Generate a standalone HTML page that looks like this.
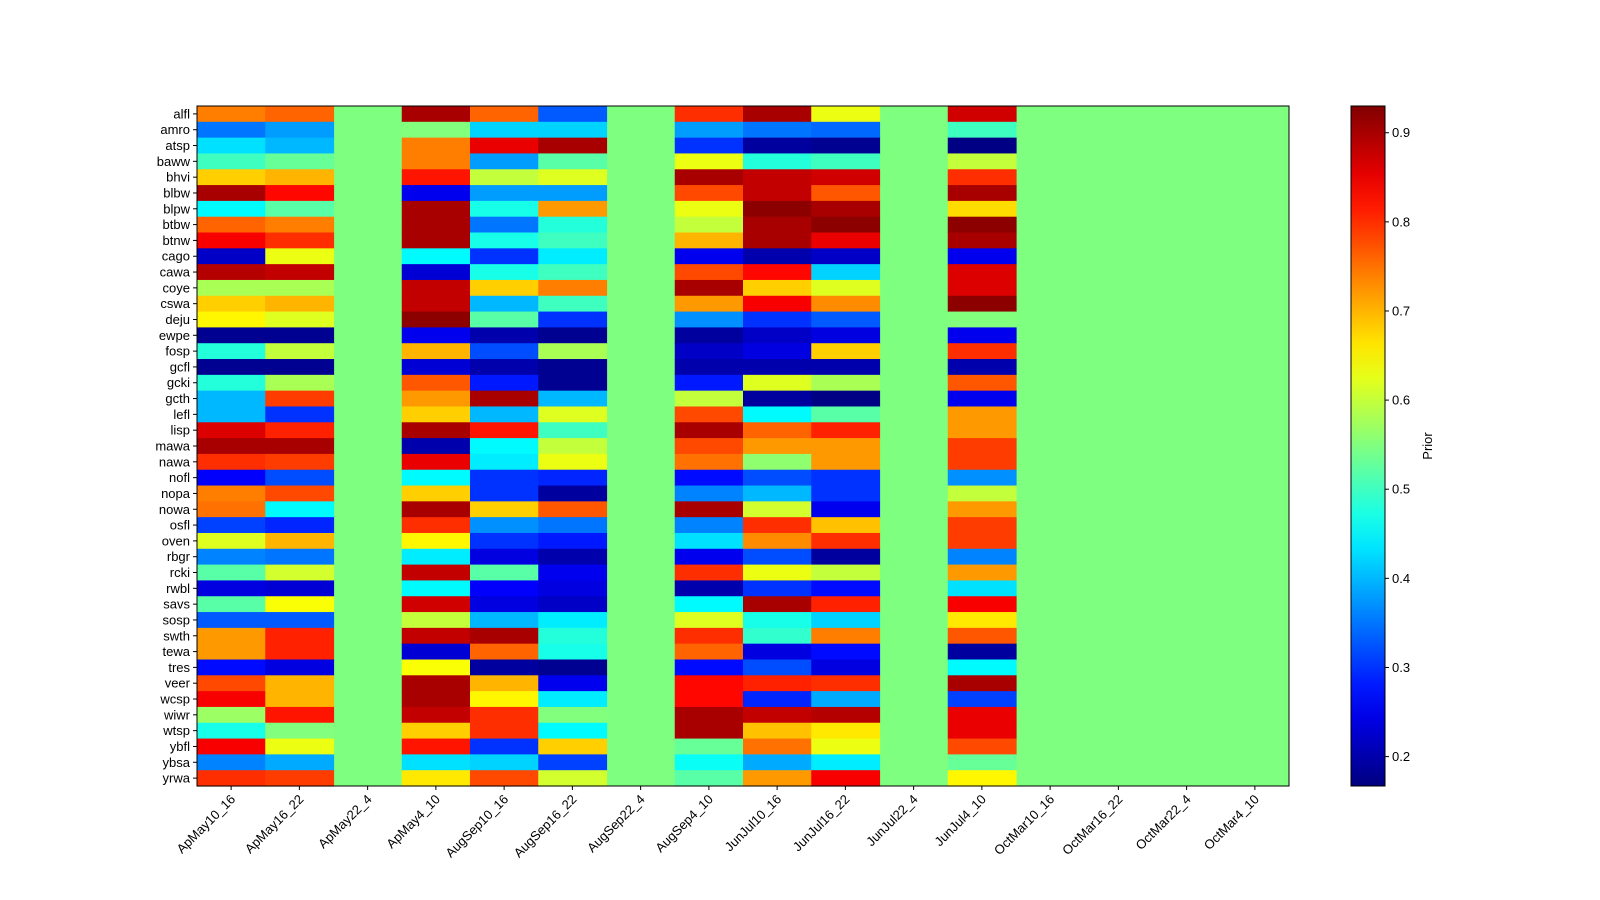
<!DOCTYPE html>
<html><head><meta charset="utf-8"><style>
html,body{margin:0;padding:0;background:#fff;overflow:hidden;width:1600px;height:900px;}
svg{display:block;font-family:"Liberation Sans","DejaVu Sans",sans-serif;}
</style></head><body>
<svg id="s" width="1600" height="900" viewBox="0 0 1600 900" xmlns="http://www.w3.org/2000/svg"></svg>
<script>
const rows=["alfl","amro","atsp","baww","bhvi","blbw","blpw","btbw","btnw","cago","cawa","coye","cswa","deju","ewpe","fosp","gcfl","gcki","gcth","lefl","lisp","mawa","nawa","nofl","nopa","nowa","osfl","oven","rbgr","rcki","rwbl","savs","sosp","swth","tewa","tres","veer","wcsp","wiwr","wtsp","ybfl","ybsa","yrwa"];
const cols=["ApMay10_16","ApMay16_22","ApMay22_4","ApMay4_10","AugSep10_16","AugSep16_22","AugSep22_4","AugSep4_10","JunJul10_16","JunJul16_22","JunJul22_4","JunJul4_10","OctMar10_16","OctMar16_22","OctMar22_4","OctMar4_10"];
const dataCols=[0,1,3,4,5,7,8,9,11];
const D=[
[.74,.76,.9,.76,.33,.8,.9,.63,.87],
[.35,.38,.55,.42,.42,.38,.35,.34,.5],
[.43,.40,.74,.85,.9,.3,.19,.18,.17],
[.5,.53,.74,.38,.52,.63,.48,.5,.6],
[.68,.7,.82,.6,.62,.9,.88,.87,.8],
[.9,.83,.25,.38,.38,.78,.88,.77,.9],
[.45,.52,.9,.47,.72,.63,.92,.9,.67],
[.76,.74,.9,.35,.48,.6,.9,.92,.92],
[.84,.8,.9,.47,.5,.7,.9,.85,.9],
[.22,.63,.45,.3,.44,.25,.2,.22,.25],
[.89,.88,.23,.47,.5,.78,.83,.42,.86],
[.58,.58,.88,.68,.74,.9,.68,.62,.86],
[.68,.7,.88,.4,.5,.72,.84,.73,.92],
[.65,.62,.92,.52,.3,.37,.3,.33,.55],
[.18,.18,.25,.2,.18,.19,.22,.24,.25],
[.48,.6,.7,.32,.58,.22,.24,.68,.8],
[.18,.18,.23,.2,.18,.2,.2,.2,.2],
[.48,.58,.77,.28,.18,.28,.62,.58,.77],
[.4,.79,.72,.9,.4,.6,.19,.17,.25],
[.4,.3,.68,.4,.62,.78,.45,.52,.72],
[.86,.81,.9,.82,.5,.9,.76,.81,.72],
[.9,.9,.2,.45,.6,.78,.72,.72,.79],
[.8,.79,.85,.44,.63,.75,.56,.72,.79],
[.26,.32,.45,.3,.29,.27,.32,.3,.37],
[.74,.78,.68,.3,.19,.36,.4,.3,.6],
[.75,.45,.9,.68,.77,.9,.61,.25,.72],
[.31,.29,.8,.37,.35,.36,.8,.69,.79],
[.62,.7,.65,.3,.28,.43,.73,.8,.79],
[.36,.35,.44,.24,.2,.25,.32,.19,.36],
[.52,.61,.88,.52,.25,.8,.63,.6,.72],
[.24,.23,.45,.26,.24,.2,.3,.27,.43],
[.52,.64,.87,.24,.22,.45,.9,.81,.84],
[.33,.33,.6,.4,.44,.62,.47,.42,.66],
[.72,.81,.88,.9,.48,.8,.49,.74,.77],
[.72,.81,.23,.76,.47,.76,.24,.27,.19],
[.27,.24,.64,.19,.18,.27,.32,.24,.45],
[.78,.7,.9,.7,.25,.83,.81,.8,.9],
[.84,.7,.9,.65,.44,.83,.29,.39,.31],
[.57,.82,.88,.8,.55,.9,.88,.89,.85],
[.47,.55,.68,.8,.45,.9,.69,.66,.85],
[.84,.63,.82,.3,.68,.53,.75,.63,.78],
[.36,.39,.43,.42,.31,.46,.39,.44,.53],
[.8,.79,.66,.78,.61,.52,.72,.84,.65]];
const vmin=0.167,vmax=0.930;
function cl(x){return Math.max(0,Math.min(1,x));}
function jet(t){t=cl(t);const r=cl(1.5-Math.abs(4*t-3)),g=cl(1.5-Math.abs(4*t-2)),b=cl(1.5-Math.abs(4*t-1));return `rgb(${Math.round(r*255)},${Math.round(g*255)},${Math.round(b*255)})`;}
function cv(v){return jet((v-vmin)/(vmax-vmin));}
const X0=197,Y0=106,W=1092,H=680,cw=W/16,rh=H/43;
let s='';
s+=`<rect x="${X0}" y="${Y0}" width="${W}" height="${H}" fill="#7fff7f"/>`;
for(let r=0;r<43;r++){for(let k=0;k<9;k++){const c=dataCols[k];
s+=`<rect x="${(X0+c*cw).toFixed(2)}" y="${(Y0+r*rh).toFixed(2)}" width="${(cw+0.6).toFixed(2)}" height="${(rh+0.6).toFixed(2)}" fill="${cv(D[r][k])}"/>`;}}
s+=`<rect x="${X0}" y="${Y0}" width="${W}" height="${H}" fill="none" stroke="#000" stroke-width="1"/>`;
for(let r=0;r<43;r++){const y=Y0+(r+.5)*rh;
s+=`<line x1="${X0-4}" x2="${X0}" y1="${y}" y2="${y}" stroke="#000"/>`;
s+=`<text x="${X0-7}" y="${y+4.5}" font-size="13" text-anchor="end">${rows[r]}</text>`;}
for(let c=0;c<16;c++){const x=X0+(c+.5)*cw;
s+=`<line x1="${x}" x2="${x}" y1="${Y0+H}" y2="${Y0+H+4}" stroke="#000"/>`;
s+=`<text transform="translate(${x+5},${Y0+H+14}) rotate(-45)" font-size="13" text-anchor="end">${cols[c]}</text>`;}
let g='<defs><linearGradient id="cb" x1="0" y1="1" x2="0" y2="0">';
for(let i=0;i<=20;i++){g+=`<stop offset="${i/20}" stop-color="${jet(i/20)}"/>`;}
g+='</linearGradient></defs>';
s=g+s;
s+=`<rect x="1351" y="${Y0}" width="34" height="${H}" fill="url(#cb)" stroke="#000"/>`;
for(let v=2;v<=9;v++){const y=Y0+H-(v/10-vmin)/(vmax-vmin)*H;
s+=`<line x1="1385" x2="1389" y1="${y}" y2="${y}" stroke="#000"/>`;
s+=`<text x="1392" y="${y+4.5}" font-size="13">${(v/10).toFixed(1)}</text>`;}
s+=`<text transform="translate(1432,446) rotate(-90)" font-size="13" text-anchor="middle">Prior</text>`;
document.getElementById('s').innerHTML=s;
</script>
</body></html>
